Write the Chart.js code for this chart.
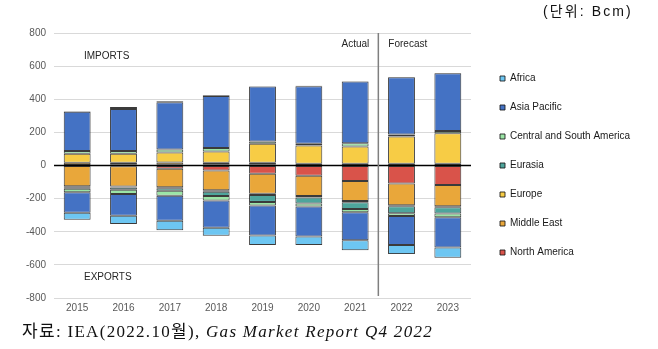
<!DOCTYPE html>
<html><head><meta charset="utf-8">
<script src="https://cdn.jsdelivr.net/npm/chart.js"></script>
<style>
html,body{margin:0;padding:0;background:#fff;}
#wrap{position:relative;width:658px;height:349px;overflow:hidden;background:#fff;}
#c{position:absolute;left:0;top:0;}
#unit{position:absolute;left:543px;top:2px;font:14px "Liberation Sans","Noto Sans CJK KR",sans-serif;letter-spacing:2.1px;color:#111;line-height:18px;white-space:nowrap;}
#src{position:absolute;left:22px;top:321px;font:17px "Liberation Serif","Noto Sans CJK KR",serif;letter-spacing:1.3px;color:#111;line-height:22px;white-space:nowrap;}
</style></head>
<body><div id="wrap"><canvas id="c" width="658" height="349"></canvas>
<div id="unit">(단위: Bcm)</div>
<div id="src">자료: IEA(2022.10월), <i>Gas Market Report Q4 2022</i></div></div>
<script>
const years = ['2015','2016','2017','2018','2019','2020','2021','2022','2023'];
const regions = ['North America','Middle East','Europe','Eurasia','Central and South America','Asia Pacific','Africa'];
const yTicks = [-800,-600,-400,-200,0,200,400,600,800];

// Imports (positive, Bcm)
const northAmericaImports = [3, 4, 4, 4, 4, 3, 3, 3, 3];
const middleEastImports   = [13, 12, 14, 12, 12, 7, 8, 7, 7];
const europeImports       = [55, 55, 61, 69, 115, 111, 104, 165, 185];
const eurasiaImports      = [0, 0, 0, 0, 0, 0, 0, 0, 0];
const csAmericaImports    = [16, 16, 18, 20, 14, 10, 20, 12, 14];
const asiaPacificImports  = [237, 254, 285, 315, 332, 348, 372, 346, 348];
const africaImports       = [3, 12, 6, 4, 2, 2, 2, 2, 2];

// Exports (negative, Bcm)
const northAmericaExports = [-3, -4, -20, -30, -50, -62, -94, -108, -118];
const middleEastExports   = [-122, -123, -111, -120, -120, -122, -120, -132, -128];
const europeExports       = [-6, -6, -6, -8, -8, -9, -8, -6, -6];
const eurasiaExports      = [-10, -14, -16, -26, -42, -37, -40, -42, -38];
const csAmericaExports    = [-20, -25, -29, -28, -22, -18, -20, -17, -22];
const asiaPacificExports  = [-125, -131, -151, -164, -180, -180, -170, -175, -183];
const africaExports       = [-42, -50, -58, -48, -58, -52, -60, -55, -62];

const colors = ['#D9534A','#E9A73A','#F7CC45','#4EA59C','#9BE5A6','#4472C4','#6DC6F2'];
const importSets = [northAmericaImports, middleEastImports, europeImports, eurasiaImports, csAmericaImports, asiaPacificImports, africaImports];
const exportSets = [northAmericaExports, middleEastExports, europeExports, eurasiaExports, csAmericaExports, asiaPacificExports, africaExports];

const BORDER = 'rgba(25,25,25,0.85)';
const datasets = [];
regions.forEach((r, i) => datasets.push({label: r, data: importSets[i], backgroundColor: colors[i], borderColor: BORDER, borderWidth: 1, borderSkipped: false, stack: 's'}));
regions.forEach((r, i) => datasets.push({label: r + ' (exports)', data: exportSets[i], backgroundColor: colors[i], borderColor: BORDER, borderWidth: 1, borderSkipped: false, stack: 's'}));

const FONT = '"Liberation Sans", Arial, sans-serif';
const LEGEND_W = 187;

const overlay = {
  id: 'overlay',
  beforeLayout(chart) {
    const lg = chart.legend;
    if (lg && !lg._patched) {
      const fit = lg.fit;
      lg.fit = function () { fit.call(this); this.width = LEGEND_W; };
      lg._patched = true;
    }
  },
  afterLayout(chart) {
    const lg = chart.legend;
    if (lg) {
      const dx = 500 - (lg.left + lg.options.labels.padding);
      lg.left += dx; lg.right += dx;
    }
  },
  afterDatasetsDraw(chart) {
    const {ctx, chartArea: a, scales: {x, y}} = chart;
    ctx.save();
    const y0 = y.getPixelForValue(0);
    ctx.strokeStyle = '#000'; ctx.lineWidth = 1.5;
    ctx.beginPath(); ctx.moveTo(a.left, y0); ctx.lineTo(a.right, y0); ctx.stroke();
    const xd = (x.getPixelForValue(6) + x.getPixelForValue(7)) / 2;
    ctx.strokeStyle = '#7f7f7f'; ctx.lineWidth = 1.5;
    ctx.beginPath(); ctx.moveTo(xd, a.top); ctx.lineTo(xd, a.bottom - 2); ctx.stroke();
    ctx.fillStyle = '#262626';
    ctx.font = '10px ' + FONT;
    ctx.textBaseline = 'middle';
    ctx.textAlign = 'right';
    ctx.fillText('Actual', xd - 9, a.top + 11);
    ctx.textAlign = 'left';
    ctx.fillText('Forecast', xd + 10, a.top + 11);
    ctx.fillText('IMPORTS', a.left + 30, a.top + 23);
    ctx.fillText('EXPORTS', a.left + 30, a.bottom - 21);
    ctx.restore();
  }
};

new Chart(document.getElementById('c'), {
  type: 'bar',
  data: {labels: years, datasets},
  options: {
    responsive: false,
    animation: false,
    devicePixelRatio: 1,
    layout: {padding: {left: 18, top: 33, right: 0, bottom: 31}},
    datasets: {bar: {categoryPercentage: 1, barPercentage: 0.58}},
    plugins: {
      tooltip: {enabled: false},
      legend: {
        position: 'right',
        align: 'center',
        fullSize: false,
        reverse: true,
        labels: {
          filter: (item) => item.datasetIndex < 7,
          boxWidth: 5, boxHeight: 5, padding: 19,
          color: '#1a1a1a',
          font: {size: 10, family: FONT}
        }
      }
    },
    scales: {
      x: {
        stacked: true,
        grid: {display: false, drawTicks: false},
        border: {display: false},
        ticks: {color: '#595959', font: {size: 10, family: FONT}, padding: 4}
      },
      y: {
        stacked: true,
        min: -800, max: 800,
        afterBuildTicks: (s) => { s.ticks = yTicks.map(v => ({value: v})); },
        grid: {color: '#d9d9d9', lineWidth: 1, drawTicks: false},
        border: {display: false},
        ticks: {color: '#595959', font: {size: 10, family: FONT}, padding: 8}
      }
    }
  },
  plugins: [overlay]
});
</script>
</body></html>
